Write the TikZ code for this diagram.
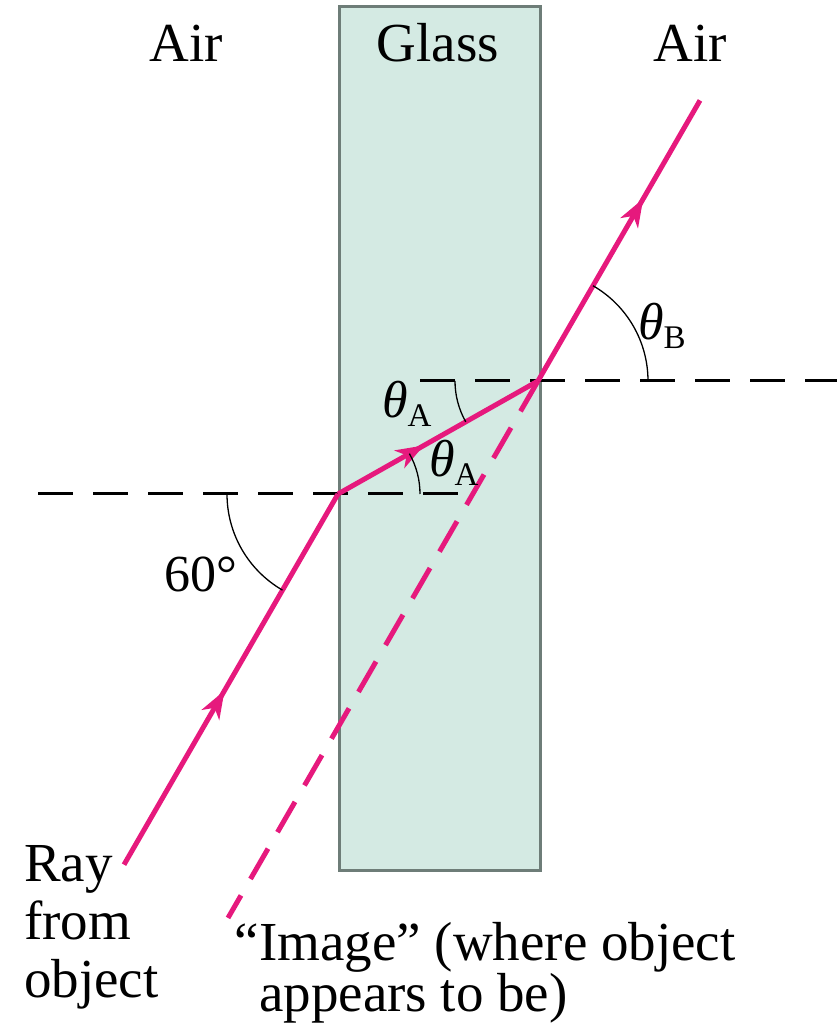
\documentclass[tikz,border=0pt]{standalone}
\usepackage{fontspec}
\setmainfont{Liberation Serif}
\usetikzlibrary{arrows.meta,decorations.markings,calc}
\definecolor{glassfill}{HTML}{D4EAE3}
\definecolor{glassedge}{HTML}{6E7D78}
\definecolor{ray}{HTML}{E6197D}
\newcommand\thsub[1]{{\itshape θ}\raisebox{-9pt}{\fontsize{33}{33}\selectfont #1}}
\begin{document}
\begin{tikzpicture}[x=1pt,y=1pt,
  lbl/.style={inner sep=0pt,font=\fontsize{55}{58}\selectfont},
  sym/.style={inner sep=0pt,font=\fontsize{52}{57}\selectfont},
  normal/.style={black,line width=3pt,dash pattern=on 35pt off 20pt},
  rayline/.style={ray,line width=5pt},
  imgray/.style={ray,line width=5pt,dash pattern=on 35pt off 19pt},
  anglearc/.style={black,line width=1.3pt},
  midarrow/.style={postaction={decorate},decoration={markings,
     mark=at position #1 with {\arrow{Stealth[length=28pt,width=20pt,inset=8pt]}}}}]
\useasboundingbox (0,0) rectangle (837,1026);
% glass slab
\node[draw=glassedge,fill=glassfill,line width=2.5pt,minimum width=201pt,minimum height=864pt,inner sep=0pt,anchor=south west] (glass) at (338,154) {};
% key points
\coordinate (entry) at (338,532);
\coordinate (exit) at (538,645);
\coordinate (src) at ($(entry)+(240:428)$);
\coordinate (out) at ($(exit)+(60:324)$);
\coordinate (img) at ($(exit)+(240:620)$);
\coordinate (n1a) at (38,532);
\coordinate (n1b) at (458,532);
\coordinate (n2a) at (420,645);
\coordinate (n2b) at (837,645);
% normals
\draw[normal] (n1a) -- (n1b);
\draw[normal] (n2a) -- (n2b);
% image ray
\draw[imgray] (exit) -- (img);
% rays
\draw[rayline,midarrow=0.47] (src) -- (entry);
\draw[rayline,midarrow=0.43] (entry) -- (exit);
\draw[rayline,midarrow=0.65] (exit) -- (out);
% angle arcs
\draw[anglearc] ($(entry)+(180:111)$) arc[start angle=180,end angle=240,radius=111];
\draw[anglearc] ($(entry)+(0:82)$) arc[start angle=0,end angle=29.46,radius=82];
\draw[anglearc] ($(exit)+(180:83)$) arc[start angle=180,end angle=209.46,radius=83];
\draw[anglearc] ($(exit)+(0:110)$) arc[start angle=0,end angle=60,radius=110];
% labels
\node[lbl,anchor=base] (airl) at (186,964) {Air};
\node[lbl,anchor=base] (glab) at (438,964) {Glass};
\node[lbl,anchor=base] (airr) at (690,964) {Air};
\node[sym,anchor=base west] (thb) at (638,686) {\thsub{B}};
\node[sym,anchor=base west] (tha1) at (382,608) {\thsub{A}};
\node[sym,anchor=base west] (tha2) at (429,549) {\thsub{A}};
\node[sym,anchor=base west] (sixty) at (164,434) {60°};
\node[lbl,anchor=north west,align=left] (raylab) at (24,181) {Ray\\from\\object};
\node[lbl,font=\fontsize{55}{51}\selectfont,anchor=north west,align=left] (imglab) at (259,104) {\llap{“}Image” (where object\\appears to be)};
\end{tikzpicture}
\end{document}
